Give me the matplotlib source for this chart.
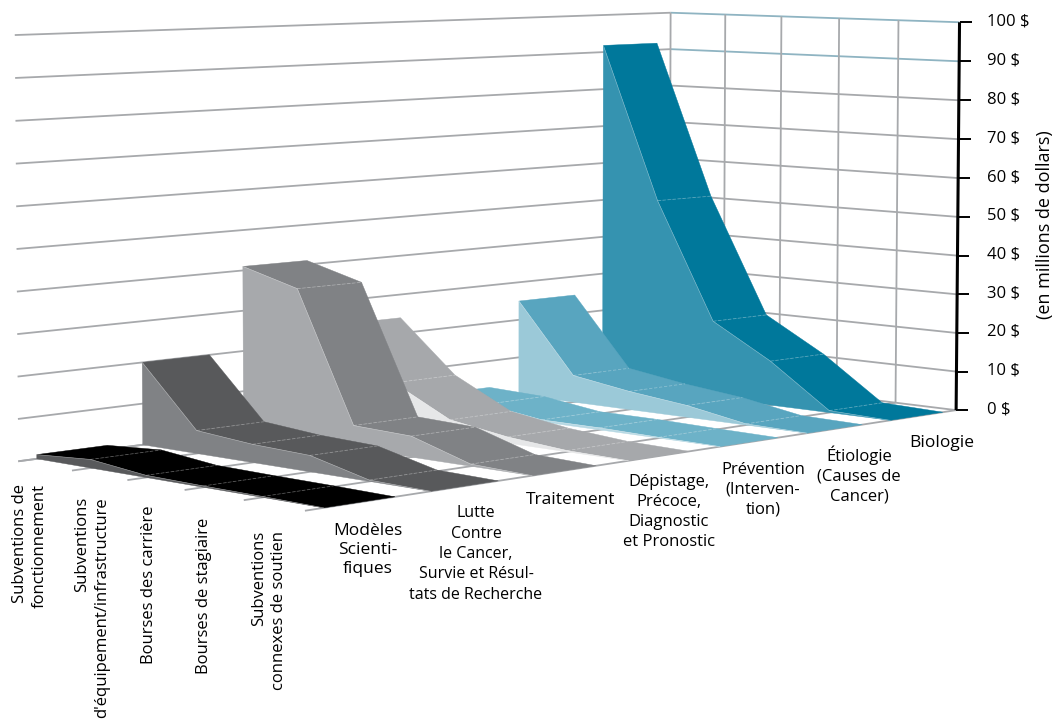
import numpy as np
import matplotlib
matplotlib.use("Agg")
import matplotlib.pyplot as plt
from matplotlib.patches import Polygon

plt.rcParams['font.family'] = ['Open Sans', 'DejaVu Sans']

# Funding per research area (millions of dollars), listed from the back row to
# the front row. Each row holds the five grant types plus a closing zero.
biologie = [91.8, 51, 20.3, 11.5, 0.5, 0]
etiologie = [25, 7, 4.7, 3, 0.3, 0]
prevention = [3, 2.5, 0.5, 0.5, 0.2, 0]
depistage = [24, 11, 3.7, 1.5, 0.3, 0]
traitement = [41, 37, 5.5, 5, 0.5, 0]
lutte = [20, 5.5, 4.3, 3.8, 0.3, 0]
modeles = [1, 2, 0.5, 0.3, 0.2, 0]

rows = [biologie, etiologie, prevention, depistage, traitement, lutte, modeles]
top_colors = ['#00789b', '#58a5bf', '#6db2c8', '#a6a8ab', '#808285', '#58595b', '#000000']
front_colors = ['#3593b0', '#9bc9d8', '#b6d8e3', '#e6e7e8', '#a7a9ac', '#808285', '#58595b']

z_ticks = list(range(0, 101, 10))
z_tick_labels = [f"{v} $" for v in z_ticks]

# Camera: world (x along grant types, y across research areas, z in dollars)
# is mapped to figure pixels by a projective matrix solved from the box corners.
world_corners = np.array([[0, 0, 0], [0, 7, 0], [5, 7, 0], [5, 0, 0],
                          [0, 0, 100], [0, 7, 100], [5, 7, 100]], float)
pixel_corners = np.array([[18, 462], [670, 374], [955.6, 411], [305, 510],
                          [15, 35], [670, 13], [960, 22]], float)


def solve_camera(world, pixels):
    a, b = [], []
    for (x, y, z), (u, v) in zip(world, pixels):
        a.append([x, y, z, 1, 0, 0, 0, 0, -u * x, -u * y, -u * z])
        a.append([0, 0, 0, 0, x, y, z, 1, -v * x, -v * y, -v * z])
        b += [u, v]
    p = np.linalg.lstsq(np.array(a), np.array(b), rcond=None)[0]
    return np.append(p, 1).reshape(3, 4)


camera = solve_camera(world_corners, pixel_corners)


def project(x, y, z):
    h = camera @ np.array([x, y, z, 1.0])
    return h[0] / h[2], h[1] / h[2]


fig = plt.figure(figsize=(10.58, 7.27), dpi=100)
ax = fig.add_axes([0, 0, 1, 1])
ax.set_xlim(0, 1058)
ax.set_ylim(727, 0)
ax.axis('off')

GRID = '#a7a9ac'
GRID_LW = 1.3


def segment(p, q, **kw):
    a, b = project(*p), project(*q)
    ax.plot([a[0], b[0]], [a[1], b[1]], solid_capstyle='butt', **kw)


# Wall lines and floor lines
for z in z_ticks:
    color = '#8fb4c2' if z >= 90 else GRID
    segment((0, 0, z), (0, 7, z), color=GRID, lw=GRID_LW, zorder=1)
    segment((0, 7, z), (5, 7, z), color=color, lw=GRID_LW, zorder=1)
for x in range(0, 6):
    if x < 5:
        segment((x, 7, 0), (x, 7, 100), color=GRID, lw=GRID_LW, zorder=1)
    segment((x, 0, 0), (x, 7, 0), color=GRID, lw=GRID_LW, zorder=1)

# Ribbons, painted from the back row to the front row
GAP = 0.17
z_base = 2
for idx, (row, top_c, front_c) in enumerate(zip(rows, top_colors, front_colors)):
    y_back = 7 - idx - GAP
    y_front = 7 - idx - 1 + GAP
    for x in range(5):
        quad = [project(x, y_front, row[x]), project(x + 1, y_front, row[x + 1]),
                project(x + 1, y_back, row[x + 1]), project(x, y_back, row[x])]
        ax.add_patch(Polygon(quad, closed=True, fc=top_c, ec=top_c, lw=0.3, zorder=z_base))
    outline = [project(x, y_front, row[x]) for x in range(6)]
    outline += [project(5, y_front, 0), project(0, y_front, 0)]
    ax.add_patch(Polygon(outline, closed=True, fc=front_c, ec=front_c, lw=0.3, zorder=z_base + 0.1))
    crease = np.array([project(x, y_front, row[x]) for x in range(6)])
    ax.plot(crease[:, 0], crease[:, 1], color='#ffffff', alpha=0.3, lw=0.5, zorder=z_base + 0.2)
    for x in range(1, 5):
        a, b = project(x, y_front, row[x]), project(x, y_back, row[x])
        ax.plot([a[0], b[0]], [a[1], b[1]], color='#ffffff', alpha=0.3, lw=0.6,
                dashes=(4, 2), zorder=z_base + 0.2)
    z_base += 1

# Dollar axis on the right-hand corner of the box
segment((5, 7, 0), (5, 7, 100), color='black', lw=2.2, zorder=20)
for z, label in zip(z_ticks, z_tick_labels):
    px, py = project(5, 7, z)
    ax.plot([px, px + 12], [py, py], color='black', lw=1.4, zorder=20, solid_capstyle='butt')
    ax.text(987, py - 1, label, ha='left', va='center', fontsize=12, color='black')
ax.text(1045, 225, "(en millions de dollars)", rotation=90, ha='center', va='center',
        fontsize=13, color='black')

# Research-area labels beneath the front edge of the floor
area_labels = [
    ("Biologie", 942, 443, 12.5),
    ("Étiologie\n(Causes de\nCancer)", 859, 475, 12),
    ("Prévention\n(Interven-\ntion)", 763, 490, 12),
    ("Dépistage,\nPrécoce,\nDiagnostic\net Pronostic", 669, 512, 12),
    ("Traitement", 571, 500, 12.5),
    ("Lutte\nContre\nle Cancer,\nSurvie et Résul-\ntats de Recherche", 476, 554, 11.5),
    ("Modèles\nScienti-\nfiques", 368, 550, 12.5),
]
for text, px, py, size in area_labels:
    ax.text(px, py, text, ha='center', va='center', multialignment='center',
            fontsize=size, linespacing=20.5 / (size * 1.3), color='black')

# Grant-type labels, turned upright along the left edge of the floor
grant_labels = [
    ("Subventions de\nfonctionnement", 30, 484),
    ("Subventions\nd'équipement/infrastructure", 92, 497),
    ("Bourses des carrière", 149, 506),
    ("Bourses de stagiaire", 204, 518),
    ("Subventions\nconnexes de soutien", 269, 531),
]
for text, px, py in grant_labels:
    ax.text(px, py, text, rotation=90, ha='center', va='top', multialignment='right',
            fontsize=12, linespacing=1.28, color='black')

fig.savefig("out.png", dpi=100)
